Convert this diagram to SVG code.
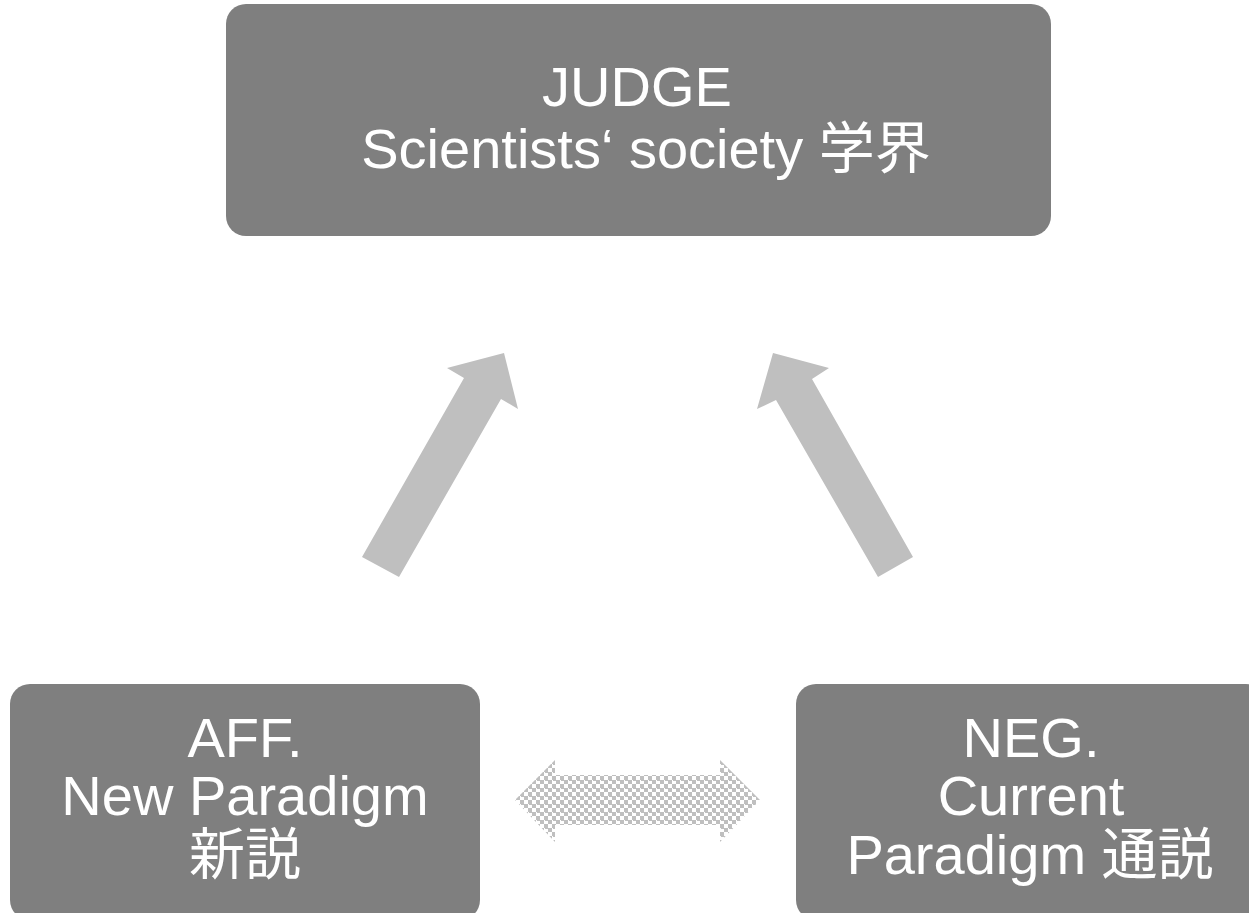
<svg xmlns="http://www.w3.org/2000/svg" width="1249" height="913" viewBox="0 0 1249 913">
<style>
.box{fill:#7f7f7f}
.t{font-family:"Liberation Sans","Noto Sans CJK JP",sans-serif;font-size:56px;fill:#ffffff;text-anchor:middle}
.arr{fill:#bfbfbf}
</style>
<defs>
<pattern id="chk" width="8" height="8" patternUnits="userSpaceOnUse">
<rect width="8" height="8" fill="#ffffff"/>
<rect x="0" y="0" width="4" height="4" fill="#bfbfbf"/>
<rect x="4" y="4" width="4" height="4" fill="#bfbfbf"/>
<rect x="1" y="3" width="3" height="2" fill="#bfbfbf"/>
<rect x="5" y="7" width="3" height="1" fill="#bfbfbf"/>
</pattern>
</defs>
<rect width="1249" height="913" fill="#ffffff"/>
<g id="connectors">
<polygon class="arr" points="362,557 399,577 501,399 518,409 504,353 447,368 464,378"/>
<polygon class="arr" points="773,353 829,368 812,379 913,557 878,577 776,400 757,409"/>
<polygon fill="url(#chk)" points="515,800 555,760 555,775 720,775 720,760 760,800 720,842 720,825 555,825 555,842"/>
</g>
<g id="judge">
<rect class="box" x="226" y="4" width="825" height="232" rx="20"/>
<text class="t" x="637" y="106">JUDGE</text>
<text class="t" x="646" y="168">Scientists‘ society 学界</text>
</g>
<g id="aff">
<rect class="box" x="10" y="684" width="470" height="236" rx="20"/>
<text class="t" x="245" y="757">AFF.</text>
<text class="t" x="245" y="815">New Paradigm</text>
<text class="t" x="245" y="874">新説</text>
</g>
<g id="neg">
<rect class="box" x="796" y="684" width="470" height="236" rx="20"/>
<text class="t" x="1031" y="757">NEG.</text>
<text class="t" x="1031" y="815">Current</text>
<text class="t" x="1030" y="874">Paradigm 通説</text>
</g>
</svg>
